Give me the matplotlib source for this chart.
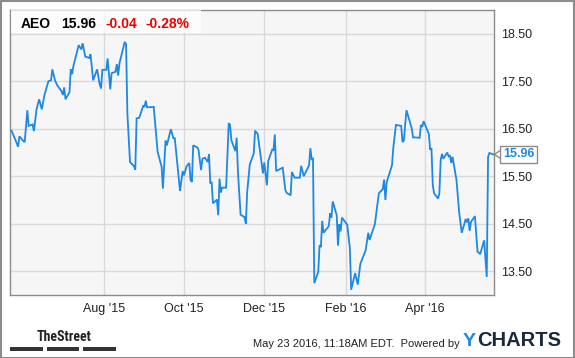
import matplotlib
matplotlib.use("Agg")
import matplotlib.pyplot as plt
from matplotlib import font_manager
from matplotlib.patches import Rectangle, Polygon
from matplotlib.lines import Line2D
import pandas as pd
from datetime import datetime

# ---------------- data ----------------
ticker = "AEO"
last_price = "15.96"
change = "-0.04"
change_pct = "-0.28%"
timestamp = "May 23 2016, 11:18AM EDT.  Powered by"

dates = [
    "2015-05-23", "2015-05-26", "2015-05-28", "2015-05-29", "2015-06-01", "2015-06-02",
    "2015-06-04", "2015-06-05", "2015-06-08", "2015-06-09", "2015-06-11", "2015-06-13",
    "2015-06-15", "2015-06-17", "2015-06-20", "2015-06-22", "2015-06-23", "2015-06-25",
    "2015-06-27", "2015-06-30", "2015-07-01", "2015-07-02", "2015-07-03", "2015-07-06",
    "2015-07-07", "2015-07-08", "2015-07-09", "2015-07-13", "2015-07-15", "2015-07-16",
    "2015-07-18", "2015-07-21", "2015-07-22", "2015-07-24", "2015-07-27", "2015-07-29",
    "2015-07-30", "2015-07-31", "2015-08-03", "2015-08-04", "2015-08-06", "2015-08-07",
    "2015-08-10", "2015-08-11", "2015-08-12", "2015-08-13", "2015-08-17", "2015-08-18",
    "2015-08-19", "2015-08-21", "2015-08-24", "2015-08-25", "2015-08-26", "2015-08-28",
    "2015-08-31", "2015-09-01", "2015-09-02", "2015-09-03", "2015-09-08", "2015-09-11",
    "2015-09-14", "2015-09-15", "2015-09-17", "2015-09-18", "2015-09-21", "2015-09-23",
    "2015-09-24", "2015-09-28", "2015-09-30", "2015-10-01", "2015-10-03", "2015-10-05",
    "2015-10-06", "2015-10-07", "2015-10-08", "2015-10-11", "2015-10-12", "2015-10-14",
    "2015-10-15", "2015-10-17", "2015-10-19", "2015-10-20", "2015-10-21", "2015-10-22",
    "2015-10-23", "2015-10-26", "2015-10-27", "2015-10-28", "2015-10-29", "2015-10-30",
    "2015-11-02", "2015-11-04", "2015-11-05", "2015-11-06", "2015-11-09", "2015-11-10",
    "2015-11-11", "2015-11-13", "2015-11-16", "2015-11-17", "2015-11-18", "2015-11-20",
    "2015-11-23", "2015-11-24", "2015-11-26", "2015-11-30", "2015-12-01", "2015-12-03",
    "2015-12-04", "2015-12-07", "2015-12-08", "2015-12-09", "2015-12-10", "2015-12-15",
    "2015-12-17", "2015-12-18", "2015-12-21", "2015-12-22", "2015-12-24", "2015-12-28",
    "2015-12-29", "2015-12-31", "2016-01-04", "2016-01-05", "2016-01-06", "2016-01-07",
    "2016-01-08", "2016-01-11", "2016-01-12", "2016-01-13", "2016-01-14", "2016-01-15",
    "2016-01-19", "2016-01-20", "2016-01-21", "2016-01-22", "2016-01-25", "2016-01-26",
    "2016-01-27", "2016-01-28", "2016-01-29", "2016-02-02", "2016-02-04", "2016-02-05",
    "2016-02-08", "2016-02-10", "2016-02-12", "2016-02-16", "2016-02-18", "2016-02-19",
    "2016-02-23", "2016-02-24", "2016-02-26", "2016-02-29", "2016-03-01", "2016-03-02",
    "2016-03-03", "2016-03-07", "2016-03-08", "2016-03-10", "2016-03-14", "2016-03-15",
    "2016-03-16", "2016-03-18", "2016-03-22", "2016-03-23", "2016-03-28", "2016-03-29",
    "2016-03-30", "2016-03-31", "2016-04-04", "2016-04-05", "2016-04-06", "2016-04-07",
    "2016-04-08", "2016-04-11", "2016-04-12", "2016-04-13", "2016-04-14", "2016-04-15",
    "2016-04-18", "2016-04-19", "2016-04-20", "2016-04-21", "2016-04-22", "2016-04-25",
    "2016-04-27", "2016-04-29", "2016-05-02", "2016-05-03", "2016-05-04", "2016-05-05",
    "2016-05-06", "2016-05-09", "2016-05-11", "2016-05-12", "2016-05-13", "2016-05-16",
    "2016-05-18", "2016-05-19", "2016-05-20", "2016-05-23",
]

prices = [
    16.46, 16.26, 16.12, 16.34, 16.24, 16.22,
    16.89, 16.56, 16.59, 16.45, 16.91, 17.12,
    16.91, 17.21, 17.50, 17.52, 17.75, 17.52,
    17.40, 17.29, 17.21, 17.37, 17.12, 17.27,
    17.75, 17.65, 17.82, 18.26, 18.17, 18.30,
    18.02, 17.99, 18.07, 17.52, 17.75, 17.43,
    17.35, 17.74, 17.74, 17.98, 17.33, 17.67,
    17.70, 17.86, 17.62, 17.88, 18.33, 18.28,
    16.82, 15.80, 15.71, 15.64, 16.72, 16.73,
    16.98, 16.96, 17.09, 16.95, 16.96, 16.01,
    15.70, 15.24, 16.25, 16.15, 16.49, 16.30,
    16.30, 15.19, 15.61, 15.52, 15.71, 15.78,
    15.42, 15.38, 16.15, 16.11, 16.06, 15.63,
    15.87, 15.89, 15.80, 15.96, 15.35, 15.38,
    14.93, 15.01, 14.68, 15.45, 15.16, 15.26,
    15.26, 16.62, 16.58, 16.26, 16.03, 16.31,
    15.59, 14.69, 14.64, 14.50, 15.17, 15.75,
    15.98, 16.46, 16.39, 15.56, 15.79, 15.31,
    15.82, 16.06, 16.05, 16.38, 15.61, 15.68,
    15.21, 15.15, 15.10, 15.59, 15.47, 15.47,
    15.72, 15.50, 15.73, 16.09, 15.86, 15.87,
    13.25, 13.49, 14.05, 14.01, 14.56, 14.31,
    14.45, 14.72, 14.63, 14.97, 14.68, 14.04,
    14.49, 14.34, 14.63, 14.48, 13.99, 13.11,
    13.46, 13.22, 13.66, 13.94, 14.31, 14.16,
    14.49, 14.71, 15.14, 15.23, 15.43, 15.00,
    15.38, 15.73, 16.10, 16.58, 16.56, 16.22,
    16.25, 16.89, 16.51, 16.32, 16.31, 16.58,
    16.54, 16.66, 16.39, 16.06, 16.09, 15.31,
    15.14, 15.03, 15.14, 15.84, 15.97, 15.87,
    16.00, 15.92, 15.94, 15.78, 15.91, 15.42,
    14.75, 14.31, 14.60, 14.53, 14.61, 14.35,
    14.54, 14.66, 13.91, 13.89, 13.86, 14.15,
    13.38, 15.91, 15.99, 15.96,
]

x_tick_dates = ["2015-08-01", "2015-10-01", "2015-12-01", "2016-02-01", "2016-04-01"]
x_tick_labels = ["Aug '15", "Oct '15", "Dec '15", "Feb '16", "Apr '16"]
y_ticks = [13.5, 14.5, 15.5, 16.5, 17.5, 18.5]

# ---------------- figure ----------------
W, H = 575, 358
plt.rcParams['font.family'] = ['Liberation Sans', 'DejaVu Sans']
fig = plt.figure(figsize=(W / 100, H / 100), dpi=100)
fig.patch.set_facecolor("white")


def fx(px):
    return px / W


def fy(py):
    return 1 - py / H


def available(name):
    try:
        font_manager.findfont(font_manager.FontProperties(family=name), fallback_to_default=False)
        return True
    except Exception:
        return False


L, R, T, B = 10, 494, 10, 295
ax = fig.add_axes([fx(L), fy(B), fx(R - L), (B - T) / H])
ax.set_facecolor("#f6f6f6")

line_color = "#1e88e5"
x = pd.to_datetime(dates)
ax.plot(x, prices, color=line_color, lw=1.3, solid_joinstyle="miter", zorder=3)

ax.set_xlim(datetime(2015, 5, 21, 20), datetime(2016, 5, 23, 12))
ax.set_ylim(13.0, 19.0)

ax.set_xticks(pd.to_datetime(x_tick_dates))
ax.set_xticklabels(x_tick_labels)
ax.set_yticks(y_ticks)
ax.set_yticklabels([f"{v:.2f}" for v in y_ticks])
ax.yaxis.tick_right()
ax.tick_params(axis="both", length=0, labelsize=9, colors="#222222")
ax.tick_params(axis="y", pad=5)
ax.tick_params(axis="x", pad=6)
ax.grid(True, color="#d9d9d9", lw=1.0)
ax.set_axisbelow(True)
for s in ax.spines.values():
    s.set_color("#8c8c8c")
    s.set_linewidth(1.0)

# header box
fig.add_artist(Rectangle((fx(L + 0.5), fy(33)), fx(190), 23 / H, transform=fig.transFigure,
                         facecolor="white", edgecolor="none", alpha=0.75, zorder=2))
hy = fy(24)
fig.text(fx(21), hy, ticker, fontsize=10, fontweight="bold", color="black", va="center", zorder=3)
fig.text(fx(61), hy, last_price, fontsize=10, fontweight="bold", color="black", va="center", zorder=3)
fig.text(fx(105), hy, change, fontsize=10, fontweight="bold", color="#ee0000", va="center", zorder=3)
fig.text(fx(146), hy, change_pct, fontsize=10, fontweight="bold", color="#ee0000", va="center", zorder=3)

# last value tag
last_val = prices[-1]
tr = ax.get_yaxis_transform()
ax.annotate(f"{last_val:.2f}", xy=(1.0, last_val), xycoords=tr, xytext=(9, 0),
            textcoords="offset pixels", va="center", ha="left", fontsize=9,
            fontweight="bold", color=line_color, annotation_clip=False,
            bbox=dict(boxstyle="square,pad=0.22", facecolor="white", edgecolor="#8c8c8c", lw=1.0),
            zorder=5)
# pointer of the tag
fig.canvas.draw()
ty = ax.transData.transform((ax.get_xlim()[1], last_val))[1]
tip_y = H - ty
ptr = [(fx(499.5), fy(tip_y - 3.5)), (fx(494.5), fy(tip_y)), (fx(499.5), fy(tip_y + 3.5))]
fig.add_artist(Polygon(ptr, closed=True, transform=fig.transFigure, facecolor="white",
                       edgecolor="none", zorder=6))
fig.add_artist(Line2D([p[0] for p in ptr], [p[1] for p in ptr], transform=fig.transFigure,
                      color="#8c8c8c", lw=1.0, zorder=7))

# footer
street_fam = None
for cand in ["Liberation Sans Narrow", "DejaVu Sans Condensed", "Roboto Condensed"]:
    if available(cand):
        street_fam = cand
        break
if street_fam is None:
    fig.text(fx(64), fy(337), "TheStreet", fontsize=9, fontweight="bold", color="#222222",
             ha="center", va="center", family=["Roboto", "Liberation Sans"])
else:
    fig.text(fx(64), fy(337), "TheStreet", fontsize=10, fontweight="bold", color="#222222",
             ha="center", va="center", family=[street_fam, "Liberation Sans"])
for x0, x1 in [(10, 43), (47, 79), (83, 116)]:
    fig.add_artist(Rectangle((fx(x0), fy(350.5)), fx(x1 - x0), 3.5 / H, transform=fig.transFigure,
                             facecolor="#333333", edgecolor="none"))
fig.text(fx(460), fy(344), timestamp, fontsize=8, color="#222222", ha="right", va="center")
fig.text(fx(463), fy(341), "Y", fontsize=14, fontweight="bold", color=line_color, ha="left", va="center")
fig.text(fx(477), fy(341), "CHARTS", fontsize=14.5, fontweight="bold", color="#1b2a3a", ha="left", va="center")

# outer border
fig.add_artist(Rectangle((0.5 / W, 0.5 / H), 1 - 1.5 / W, 1 - 1.5 / H, transform=fig.transFigure,
                         facecolor="none", edgecolor="#8c8c8c", lw=1.5))

fig.savefig("out.png", dpi=100, facecolor="white")
